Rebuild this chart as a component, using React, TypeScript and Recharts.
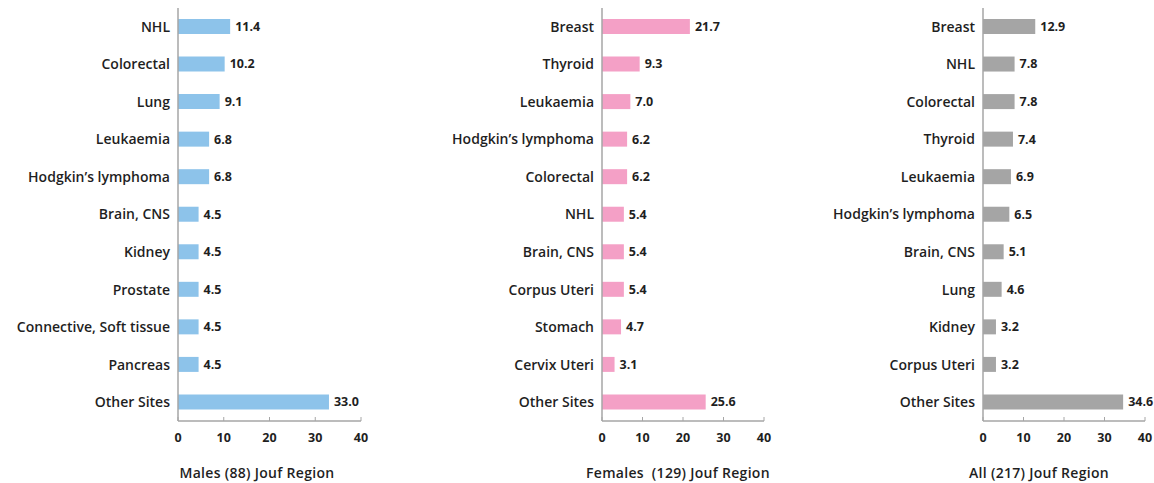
import { BarChart, Bar, XAxis, YAxis, LabelList } from 'recharts'

const maleSites = ['NHL', 'Colorectal', 'Lung', 'Leukaemia', 'Hodgkin’s lymphoma', 'Brain, CNS', 'Kidney', 'Prostate', 'Connective, Soft tissue', 'Pancreas', 'Other Sites']
const maleValues = [11.4, 10.2, 9.1, 6.8, 6.8, 4.5, 4.5, 4.5, 4.5, 4.5, 33.0]

const femaleSites = ['Breast', 'Thyroid', 'Leukaemia', 'Hodgkin’s lymphoma', 'Colorectal', 'NHL', 'Brain, CNS', 'Corpus Uteri', 'Stomach', 'Cervix Uteri', 'Other Sites']
const femaleValues = [21.7, 9.3, 7.0, 6.2, 6.2, 5.4, 5.4, 5.4, 4.7, 3.1, 25.6]

const allSites = ['Breast', 'NHL', 'Colorectal', 'Thyroid', 'Leukaemia', 'Hodgkin’s lymphoma', 'Brain, CNS', 'Lung', 'Kidney', 'Corpus Uteri', 'Other Sites']
const allValues = [12.9, 7.8, 7.8, 7.4, 6.9, 6.5, 5.1, 4.6, 3.2, 3.2, 34.6]

const xTicks = [0, 10, 20, 30, 40]

const LABEL_FONT = '"Open Sans", sans-serif'
const INK = '#1f1f1f'
const AXIS = '#a6a6a6'

interface PanelProps {
  sites: string[]
  values: number[]
  color: string
  title: string
  left: number
  width: number
  axisWidth: number
  rightMargin: number
  titleCenter: number
}

function Panel({ sites, values, color, title, left, width, axisWidth, rightMargin, titleCenter }: PanelProps) {
  const data = sites.map((s, i) => ({ site: s, value: values[i] }))
  return (
    <>
      <div style={{ position: 'absolute', left, top: 0 }}>
        <BarChart
          width={width}
          height={455}
          data={data}
          layout="vertical"
          barCategoryGap={0}
          margin={{ top: 8, right: rightMargin, bottom: 0, left: 0 }}
        >
          <YAxis
            type="category"
            dataKey="site"
            width={axisWidth}
            axisLine={{ stroke: AXIS, strokeWidth: 1.5 }}
            tickLine={false}
            tickMargin={2}
            interval={0}
            tick={{ fill: INK, fontSize: 14, fontWeight: 600, fontFamily: LABEL_FONT }}
          />
          <XAxis
            type="number"
            domain={[0, 40]}
            ticks={xTicks}
            height={34}
            axisLine={{ stroke: AXIS, strokeWidth: 1.5 }}
            tickLine={{ stroke: AXIS }}
            tickSize={-4}
            tickMargin={16}
            tick={{ fill: INK, fontSize: 12.5, fontWeight: 700, fontFamily: LABEL_FONT }}
          />
          <Bar dataKey="value" fill={color} barSize={15} isAnimationActive={false}>
            <LabelList
              dataKey="value"
              position="right"
              offset={5}
              formatter={(v: number) => v.toFixed(1)}
              style={{ fill: INK, fontSize: 12.5, fontWeight: 700, fontFamily: LABEL_FONT }}
            />
          </Bar>
        </BarChart>
      </div>
      <div
        style={{
          position: 'absolute',
          left: titleCenter - 150,
          width: 300,
          top: 463,
          textAlign: 'center',
          whiteSpace: 'pre',
          fontFamily: LABEL_FONT,
          fontSize: 14,
          letterSpacing: 0.3,
          fontWeight: 600,
          color: INK,
        }}
      >
        {title}
      </div>
    </>
  )
}

export default function App() {
  return (
    <div style={{ position: 'absolute', left: 0, top: 0, width: 1154, height: 483, background: '#fff', overflow: 'hidden' }}>
      <Panel sites={maleSites} values={maleValues} color="#8DC3EA" title="Males (88) Jouf Region"
        left={0} width={380} axisWidth={178} rightMargin={19} titleCenter={257} />
      <Panel sites={femaleSites} values={femaleValues} color="#F4A0C6" title="Females  (129) Jouf Region"
        left={400} width={390} axisWidth={202} rightMargin={26} titleCenter={678} />
      <Panel sites={allSites} values={allValues} color="#A5A5A5" title="All (217) Jouf Region"
        left={790} width={364} axisWidth={193} rightMargin={9} titleCenter={1039} />
    </div>
  )
}
